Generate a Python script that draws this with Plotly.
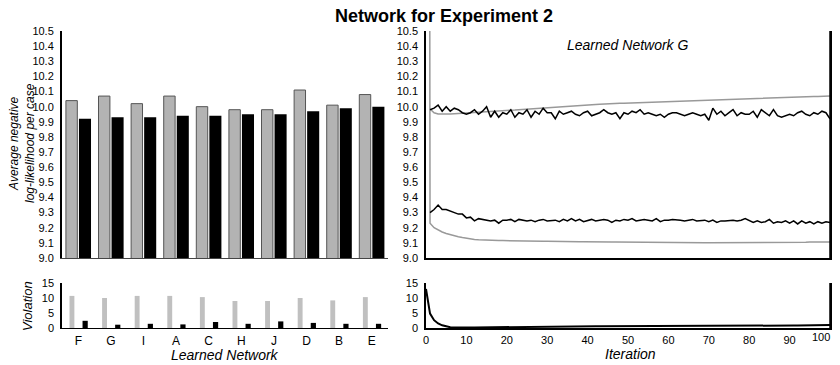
import plotly.graph_objects as go

# ---------------- data ----------------
networks = ["F", "G", "I", "A", "C", "H", "J", "D", "B", "E"]
nll_gray = [10.04, 10.07, 10.02, 10.07, 10.00, 9.98, 9.98, 10.11, 10.01, 10.08]
nll_black = [9.92, 9.93, 9.93, 9.94, 9.94, 9.95, 9.95, 9.97, 9.99, 10.00]
viol_gray = [10.7, 10.0, 10.7, 10.7, 10.3, 9.0, 9.0, 10.0, 9.2, 10.3]
viol_black = [2.4, 1.1, 1.4, 1.2, 2.0, 1.4, 2.2, 1.7, 1.4, 1.4]

iteration_ticks = [0, 10, 20, 30, 40, 50, 60, 70, 80, 90, 100]

iterations = list(range(0, 101))
upper_black = [None,
    9.98, 9.99, 10.01, 9.97, 10.00, 9.97, 9.99, 9.98, 9.96, 9.95,
    9.96, 9.98, 9.95, 9.97, 10.00, 9.93, 9.97, 9.93, 9.96, 9.95,
    9.98, 9.93, 9.96, 9.95, 9.98, 9.93, 9.97, 9.95, 9.99, 9.96,
    9.96, 9.92, 9.97, 9.95, 9.96, 9.97, 9.95, 9.94, 9.96, 9.97,
    9.94, 9.95, 9.96, 9.98, 9.96, 9.95, 9.96, 9.92, 9.96, 9.95,
    9.97, 9.96, 9.98, 9.95, 9.96, 9.95, 9.94, 9.95, 9.93, 9.95,
    9.96, 9.96, 9.95, 9.94, 9.95, 9.96, 9.95, 9.94, 9.95, 9.91,
    9.99, 9.95, 9.97, 9.94, 9.96, 9.98, 9.94, 9.96, 9.95, 9.95,
    9.97, 9.93, 9.98, 9.96, 9.94, 9.98, 9.94, 9.93, 9.94, 9.95,
    9.94, 9.96, 9.97, 9.95, 9.94, 9.96, 9.95, 9.97, 9.96, 9.92]
lower_black = [None,
    9.30, 9.32, 9.35, 9.32, 9.32, 9.31, 9.30, 9.29, 9.29, 9.265,
    9.27, 9.245, 9.26, 9.255, 9.25, 9.245, 9.25, 9.23, 9.25, 9.25,
    9.255, 9.24, 9.255, 9.25, 9.245, 9.25, 9.24, 9.25, 9.255, 9.245,
    9.25, 9.25, 9.24, 9.255, 9.245, 9.26, 9.245, 9.255, 9.24, 9.25,
    9.255, 9.245, 9.25, 9.255, 9.25, 9.235, 9.25, 9.245, 9.255, 9.25,
    9.26, 9.245, 9.25, 9.255, 9.25, 9.245, 9.26, 9.24, 9.25, 9.25,
    9.255, 9.25, 9.25, 9.245, 9.25, 9.255, 9.245, 9.25, 9.25, 9.24,
    9.25, 9.235, 9.245, 9.245, 9.25, 9.25, 9.245, 9.25, 9.26, 9.25,
    9.235, 9.245, 9.235, 9.24, 9.255, 9.23, 9.24, 9.235, 9.245, 9.23,
    9.245, 9.225, 9.245, 9.23, 9.24, 9.225, 9.24, 9.23, 9.24, 9.235]
upper_gray = [None,
    9.985, 9.960, 9.952, 9.950, 9.950, 9.951, 9.953, 9.955, 9.957, 9.959,
    9.962, 9.964, 9.966, 9.968, 9.970, 9.971, 9.972, 9.974, 9.975, 9.976,
    9.977, 9.978, 9.980, 9.981, 9.982, 9.984, 9.986, 9.988, 9.990, 9.992,
    9.994, 9.996, 9.998, 10.000, 10.002, 10.004, 10.006, 10.008, 10.010, 10.012,
    10.013, 10.015, 10.016, 10.018, 10.019, 10.020, 10.021, 10.022, 10.023, 10.024,
    10.025, 10.026, 10.027, 10.028, 10.029, 10.030, 10.031, 10.032, 10.033, 10.034,
    10.035, 10.036, 10.037, 10.038, 10.039, 10.040, 10.041, 10.042, 10.043, 10.044,
    10.045, 10.046, 10.047, 10.048, 10.049, 10.050, 10.051, 10.052, 10.053, 10.054,
    10.055, 10.056, 10.057, 10.058, 10.059, 10.060, 10.061, 10.062, 10.063, 10.064,
    10.064, 10.065, 10.066, 10.066, 10.067, 10.068, 10.068, 10.069, 10.069, 10.070]
lower_gray = [30.0,
    9.230, 9.200, 9.185, 9.172, 9.162, 9.153, 9.146, 9.140, 9.135, 9.130,
    9.126, 9.123, 9.120, 9.118, 9.117, 9.116, 9.116, 9.115, 9.115, 9.114,
    9.114, 9.113, 9.113, 9.112, 9.112, 9.111, 9.111, 9.110, 9.110, 9.110,
    9.109, 9.109, 9.109, 9.108, 9.108, 9.108, 9.107, 9.107, 9.107, 9.106,
    9.106, 9.106, 9.106, 9.105, 9.105, 9.105, 9.105, 9.105, 9.104, 9.104,
    9.104, 9.104, 9.104, 9.103, 9.103, 9.103, 9.103, 9.103, 9.102, 9.102,
    9.102, 9.102, 9.102, 9.102, 9.101, 9.101, 9.101, 9.101, 9.101, 9.100,
    9.100, 9.100, 9.100, 9.100, 9.100, 9.100, 9.100, 9.100, 9.101, 9.101,
    9.101, 9.101, 9.102, 9.102, 9.102, 9.102, 9.103, 9.103, 9.103, 9.103,
    9.104, 9.104, 9.104, 9.104, 9.105, 9.105, 9.105, 9.105, 9.105, 9.106]
violation_line = [13.0,
    4.8, 2.6, 1.5, 0.9, 0.5, 0.25, 0.15, 0.1, 0.1, 0.12,
    0.15, 0.18, 0.2, 0.22, 0.25, 0.28, 0.3, 0.32, 0.35, 0.38,
    0.4, 0.42, 0.43, 0.45, 0.46, 0.47, 0.48, 0.49, 0.5, 0.5,
    0.51, 0.52, 0.52, 0.53, 0.54, 0.54, 0.55, 0.55, 0.56, 0.56,
    0.57, 0.57, 0.58, 0.58, 0.58, 0.59, 0.59, 0.59, 0.6, 0.6,
    0.6, 0.6, 0.61, 0.61, 0.61, 0.61, 0.62, 0.62, 0.62, 0.62,
    0.63, 0.63, 0.63, 0.64, 0.64, 0.64, 0.65, 0.65, 0.66, 0.66,
    0.67, 0.67, 0.68, 0.68, 0.69, 0.69, 0.7, 0.7, 0.71, 0.72,
    0.73, 0.74, 0.75, 0.76, 0.77, 0.78, 0.79, 0.8, 0.81, 0.82,
    0.83, 0.85, 0.86, 0.88, 0.9, 0.92, 0.94, 0.96, 0.98, 1.0]

FONT = "Liberation Sans, Arial, sans-serif"
GRAY = "#b3b3b3"

fig = go.Figure()

# top-left bars
fig.add_trace(go.Bar(x=networks, y=nll_gray, xaxis="x", yaxis="y",
                     marker=dict(color=GRAY, line=dict(color="#555555", width=1)),
                     offset=-0.38, width=0.35, showlegend=False))
fig.add_trace(go.Bar(x=networks, y=nll_black, xaxis="x", yaxis="y",
                     marker=dict(color="black", line=dict(width=0)),
                     offset=0.02, width=0.37, showlegend=False))
# bottom-left bars
fig.add_trace(go.Bar(x=networks, y=viol_gray, xaxis="x3", yaxis="y3",
                     marker=dict(color="#c0c0c0", line=dict(width=0)),
                     offset=-0.27, width=0.15, showlegend=False))
fig.add_trace(go.Bar(x=networks, y=viol_black, xaxis="x3", yaxis="y3",
                     marker=dict(color="black", line=dict(width=0)),
                     offset=0.13, width=0.16, showlegend=False))

# top-right lines
for ys, col in [(lower_gray, "#999999"), (upper_gray, "#999999"),
                (upper_black, "black"), (lower_black, "black")]:
    fig.add_trace(go.Scatter(x=iterations, y=ys, xaxis="x2", yaxis="y2", mode="lines",
                             line=dict(color=col, width=1.5), showlegend=False,
                             connectgaps=False))
# bottom-right line
fig.add_trace(go.Scatter(x=iterations, y=violation_line, xaxis="x4", yaxis="y4", mode="lines",
                         line=dict(color="black", width=2), showlegend=False))

# the page body has an 8px margin, so the figure is drawn 8px in from the window corner
OFF = 8
W, H = 840 - OFF, 365 - OFF
def px(x):
    return (x - OFF) / W
def py(y):
    return (H - (y - OFF)) / H

L = [px(62), px(388)]
R = [px(426), px(830)]
TOP = [py(258), py(31)]
BOT = [py(328), py(283)]

tickfont = dict(family=FONT, size=11, color="black")
common_y = dict(showgrid=False, zeroline=False, ticks="", tickfont=tickfont,
                showline=True, linecolor="black", ticklabelstandoff=4, automargin=False)

fig.update_layout(
    template="none",
    width=W, height=H,
    margin=dict(l=0, r=0, t=0, b=0, autoexpand=False),
    paper_bgcolor="white", plot_bgcolor="white",
    barmode="overlay",
    font=dict(family=FONT, color="black"),
    xaxis=dict(domain=L, anchor="y", showticklabels=False, ticks="", showgrid=False,
               zeroline=False, automargin=False,
               showline=True, linecolor="#444444", linewidth=1, range=[-0.5, 9.5]),
    yaxis=dict(domain=TOP, anchor="x", range=[9.0, 10.5], dtick=0.1, tick0=9.0,
               tickformat=".1f", linewidth=2, **common_y),
    xaxis2=dict(domain=R, anchor="y2", showticklabels=False, ticks="", showgrid=False,
                zeroline=False, automargin=False,
                showline=True, linecolor="black", linewidth=1.5, range=[0, 100]),
    yaxis2=dict(domain=TOP, anchor="x2", range=[9.0, 10.5], dtick=0.1, tick0=9.0,
                tickformat=".1f", linewidth=1.5, mirror=True, **common_y),
    xaxis3=dict(domain=L, anchor="y3", ticks="", showgrid=False, zeroline=False,
                automargin=False, showline=True,
                linecolor="black", linewidth=1, tickfont=dict(family=FONT, size=12, color="black"),
                range=[-0.5, 9.5], ticklabelstandoff=2),
    yaxis3=dict(domain=BOT, anchor="x3", range=[0, 15], dtick=5, linewidth=1.5, **common_y),
    xaxis4=dict(domain=R, anchor="y4", ticks="", showgrid=False, zeroline=False,
                automargin=False, tickmode="array", tickvals=iteration_ticks[:-1],
                showline=True, linecolor="black", linewidth=1.5, range=[0, 100],
                tickfont=tickfont, ticklabelstandoff=1),
    yaxis4=dict(domain=BOT, anchor="x4", range=[0, 15], dtick=5, linewidth=1.5,
                mirror=True, **common_y),
)

# right-hand frame lines of the two iteration panels
for xr, yr in [("x2 domain", "y2 domain"), ("x4 domain", "y4 domain")]:
    fig.add_shape(type="line", xref=xr, yref=yr, x0=1, x1=1, y0=0, y1=1,
                  line=dict(color="black", width=1.5))

ann = [
    dict(text="<b>Network for Experiment 2</b>", x=px(444), y=py(4), font=dict(size=18),
         yanchor="top"),
    dict(text="<i>Learned Network G</i>", x=px(628), y=py(45), font=dict(size=14)),
    dict(text="<i>Average negative<br>log-likelihood per case</i>", x=px(22), y=py(143),
         font=dict(size=12), textangle=-90),
    dict(text="<i>Violation</i>", x=px(27), y=py(306), font=dict(size=13), textangle=-90),
    dict(text="<i>Learned Network</i>", x=px(225), y=py(355), font=dict(size=14)),
    dict(text="<i>Iteration</i>", x=px(630), y=py(354), font=dict(size=14)),
]
for a in ann:
    a.setdefault("yanchor", "middle")
    a.update(xref="paper", yref="paper", showarrow=False, xanchor="center")
    a["font"].update(family=FONT, color="black")
fig.update_layout(annotations=ann)

# last iteration tick label, kept inside the visible window edge
fig.add_annotation(text=str(iteration_ticks[-1]), x=iteration_ticks[-1], xref="x4",
                   y=0, yref="y4 domain", xanchor="right", yanchor="top", yshift=-1,
                   xshift=2, showarrow=False, font=tickfont)

fig.write_html("out.html")
